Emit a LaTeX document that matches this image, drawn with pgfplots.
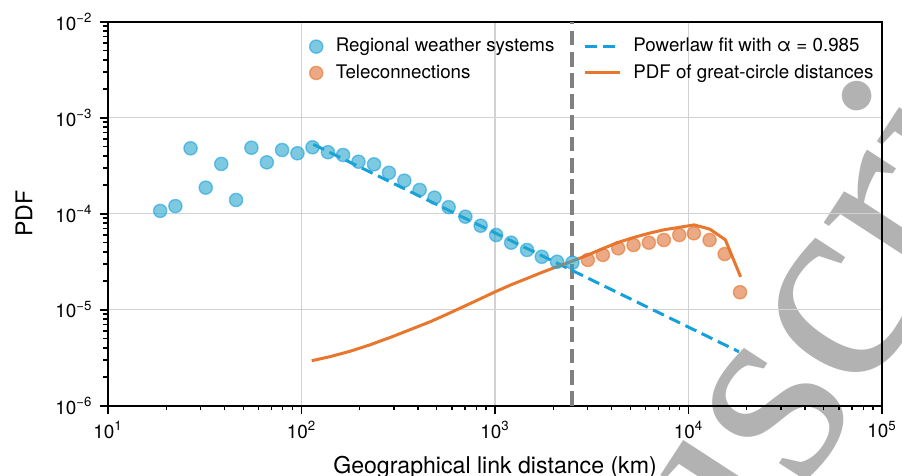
\documentclass[border=0pt]{standalone}
\usepackage{fontspec}
\setmainfont{TeX Gyre Heros}
\newfontfamily\wmfont{Liberation Serif}
\usepackage{pgfplots}
\pgfplotsset{compat=1.18}

\definecolor{ptblue}{RGB}{38,167,203}
\definecolor{ptblueedge}{RGB}{30,160,225}
\definecolor{fitblue}{RGB}{20,160,220}
\definecolor{ptorange}{RGB}{222,113,52}
\definecolor{ptorangeedge}{RGB}{232,115,40}
\definecolor{pdforange}{RGB}{232,119,46}
\definecolor{gridgray}{RGB}{210,210,210}

\pgfplotsset{
  bluepts/.style={only marks, mark=*, mark size=3.3bp,
    mark options={fill=ptblue, draw=ptblueedge, fill opacity=0.6, draw opacity=0.6, line width=0.7bp}},
  orangepts/.style={only marks, mark=*, mark size=3.3bp,
    mark options={fill=ptorange, draw=ptorangeedge, fill opacity=0.6, draw opacity=0.6, line width=0.7bp}},
  markimg/.style={legend image code/.code={\draw[##1] plot coordinates {(0bp,0bp)};}},
  lineimg/.style={legend image code/.code={\draw[##1] (0bp,0bp) -- (17.3bp,0bp);}},
}

\begin{document}
\begin{tikzpicture}
% watermark of the source page
\node[overlay, anchor=base west, rotate=57, inner sep=0pt, text=black!30,
      font=\wmfont\fontsize{140}{140}\selectfont] at (309bp,-102bp) {uscript};
\begin{axis}[
    width=387bp, height=192bp, scale only axis,
    xmode=log, ymode=log,
    xmin=10, xmax=100000, ymin=1e-6, ymax=1e-2,
    xtick={10,100,1000,10000,100000},
    xticklabels={10\textsuperscript{1},10\textsuperscript{2},10\textsuperscript{3},10\textsuperscript{4},10\textsuperscript{5}},
    minor xtick={20,30,40,50,60,70,80,90,200,300,400,500,600,700,800,900,
      2000,3000,4000,5000,6000,7000,8000,9000,20000,30000,40000,50000,60000,70000,80000,90000},
    ytick={1e-6,1e-5,1e-4,1e-3,1e-2},
    yticklabels={10\textsuperscript{−6},10\textsuperscript{−5},10\textsuperscript{−4},10\textsuperscript{−3},10\textsuperscript{−2}},
    minor ytick={2e-6,3e-6,4e-6,5e-6,6e-6,7e-6,8e-6,9e-6,2e-5,3e-5,4e-5,5e-5,6e-5,7e-5,8e-5,9e-5,
      2e-4,3e-4,4e-4,5e-4,6e-4,7e-4,8e-4,9e-4,2e-3,3e-3,4e-3,5e-3,6e-3,7e-3,8e-3,9e-3},
    tick align=outside, xtick pos=bottom, ytick pos=left,
    major tick length=4.2bp, minor tick length=2.4bp,
    major tick style={draw=black, line width=0.9bp},
    minor tick style={draw=black, line width=0.7bp},
    axis line style={line width=0.8bp},
    grid=major, major grid style={gridgray, line width=0.6bp},
    tick label style={font=\fontsize{9.5}{11}\selectfont},
    label style={font=\fontsize{11.6}{14}\selectfont},
    xlabel={Geographical link distance (km)},
    ylabel={PDF},
    x label style={at={([yshift=-34bp]axis description cs:0.5,0)}, anchor=base},
    y label style={at={([xshift=-42bp]axis description cs:0,0.5)}, anchor=center},
    legend columns=2, legend cell align=left,
    legend style={at={(axis description cs:0.26,0.96)}, anchor=north west,
      draw=none, fill=none, inner sep=0pt,
      font=\fontsize{9.4}{11}\selectfont,
      nodes={inner sep=0pt, text height=0.72em, text depth=0.2em},
      row sep=4bp,
      /tikz/column 1/.style={column sep=6.5bp},
      /tikz/column 2/.style={column sep=14.5bp},
      /tikz/column 3/.style={column sep=6.2bp}},
]
% threshold between regional and teleconnection links
\addplot[forget plot, black!50, line width=2bp, dash pattern=on 7.4bp off 3.2bp]
  coordinates {(2512,1e-6) (2512,1e-2)};
% power law fit
\addplot[forget plot, fitblue, line width=1.5bp, dash pattern=on 6bp off 3bp]
  coordinates {(115,5.28e-4) (18240,3.65e-6)};
% great-circle distance PDF
\addplot[forget plot, pdforange, line width=1.5bp] coordinates {
  (113,2.94e-6) (141,3.25e-6) (179,3.70e-6) (224,4.28e-6) (288,5.15e-6)
  (363,6.18e-6) (463,7.5e-6) (560,8.9e-6) (662,1.04e-5) (820,1.27e-5)
  (1004,1.54e-5) (1220,1.83e-5) (1466,2.12e-5) (1750,2.45e-5) (2094,2.81e-5)
  (2500,3.2e-5) (2877,3.57e-5) (3500,4.22e-5) (4285,4.99e-5) (5200,5.65e-5)
  (6240,6.25e-5) (7460,6.8e-5) (8910,7.2e-5) (10700,7.65e-5) (12900,6.9e-5)
  (15500,5.35e-5) (18600,2.2e-5)
};
% regional weather systems
\addplot[forget plot, bluepts] coordinates {
  (18.6,1.07e-4) (22.3,1.20e-4) (26.7,4.80e-4) (32.0,1.87e-4) (38.5,3.30e-4)
  (45.9,1.39e-4) (55.1,4.87e-4) (66.2,3.43e-4) (79.4,4.61e-4) (95.3,4.26e-4)
  (114,4.92e-4) (137,4.37e-4) (164,4.09e-4) (197,3.48e-4) (237,3.27e-4)
  (283,2.67e-4) (340,2.21e-4) (408,1.77e-4) (487,1.47e-4) (576,1.17e-4)
  (703,9.31e-5) (843,7.50e-5) (1014,6.00e-5) (1212,4.99e-5) (1464,4.19e-5)
  (1745,3.56e-5) (2094,3.16e-5) (2512,3.09e-5)
};
% teleconnections
\addplot[forget plot, orangepts] coordinates {
  (3018,3.30e-5) (3610,3.72e-5) (4333,4.36e-5) (5200,4.72e-5) (6240,4.99e-5)
  (7460,5.32e-5) (8960,6.00e-5) (10660,6.25e-5) (12850,5.32e-5) (15380,3.80e-5)
  (18460,1.52e-5)
};
\addlegendimage{bluepts, markimg}
\addlegendentry{Regional weather systems}
\addlegendimage{fitblue, line width=1.5bp, dash pattern=on 6bp off 3bp, lineimg}
\addlegendentry{Powerlaw fit with α = 0.985}
\addlegendimage{orangepts, markimg}
\addlegendentry{Teleconnections}
\addlegendimage{pdforange, line width=1.5bp, lineimg}
\addlegendentry{PDF of great-circle distances}
\end{axis}
\pgfresetboundingbox
\path[use as bounding box] (-54bp,-35.15bp) rectangle (397bp,202.85bp);
\end{tikzpicture}
\end{document}
